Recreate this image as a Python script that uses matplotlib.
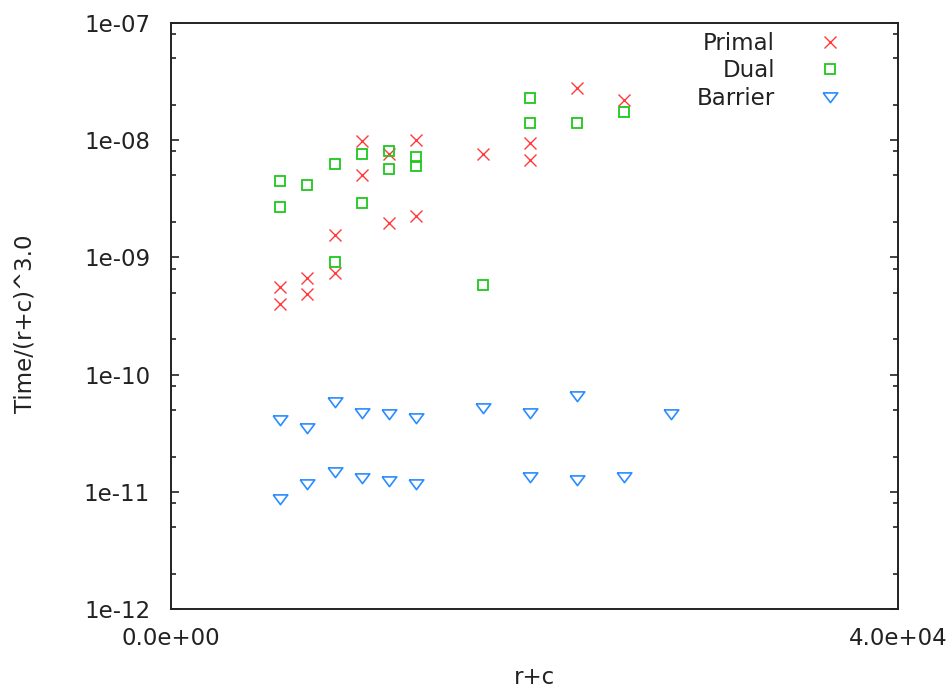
import matplotlib
matplotlib.use("Agg")
import matplotlib.pyplot as plt
from matplotlib.ticker import FixedLocator, NullFormatter
import numpy as np

# problem sizes (r+c) and timings normalised by (r+c)^3
primal_x = [6000, 6000, 7500, 7500, 9000, 9000, 10500, 10500, 12000, 12000,
            13500, 13500, 17150, 19750, 19750, 22350, 24900]
primal_y = [5.6e-10, 4.0e-10, 6.7e-10, 4.9e-10, 1.55e-9, 7.3e-10, 9.9e-9, 5.0e-9,
            7.6e-9, 1.95e-9, 1.01e-8, 2.26e-9, 7.6e-9, 9.4e-9, 6.75e-9, 2.8e-8, 2.18e-8]

dual_x = [6000, 6000, 7500, 9000, 9000, 10500, 10500, 12000, 12000, 13500, 13500,
          17150, 19750, 19750, 22350, 24900]
dual_y = [4.5e-9, 2.7e-9, 4.15e-9, 6.2e-9, 9.2e-10, 7.6e-9, 2.9e-9, 8.1e-9, 5.7e-9,
          7.1e-9, 6.0e-9, 5.8e-10, 2.3e-8, 1.4e-8, 1.4e-8, 1.72e-8]

barrier_x = [6000, 6000, 7500, 7500, 9000, 9000, 10500, 10500, 12000, 12000,
             13500, 13500, 17150, 19750, 19750, 22350, 22350, 24900, 27500]
barrier_y = [4.1e-11, 8.7e-12, 3.5e-11, 1.18e-11, 5.8e-11, 1.49e-11, 4.7e-11, 1.32e-11,
             4.6e-11, 1.25e-11, 4.3e-11, 1.18e-11, 5.15e-11, 4.7e-11, 1.33e-11,
             6.55e-11, 1.26e-11, 1.33e-11, 4.6e-11]

series_labels = ["Primal", "Dual", "Barrier"]
x_ticks = [0, 40000]
x_tick_labels = ["0.0e+00", "4.0e+04"]
y_ticks = [1e-12, 1e-11, 1e-10, 1e-9, 1e-8, 1e-7]
y_tick_labels = ["1e-12", "1e-11", "1e-10", "1e-09", "1e-08", "1e-07"]

plt.rcParams["font.family"] = ["DejaVu Sans"]
FS = 16.5
TXT = "#222222"

W, H = 952, 690
fig = plt.figure(figsize=(W / 100, H / 100), dpi=100)
ax = fig.add_axes([171 / W, 1 - 609.3 / H, (898 - 171) / W, (609.3 - 22.7) / H])

red = "#ff3a3a"
green = "#1ec81e"
blue = "#2a8cff"

# wide downward triangle with a flat top
tri = [(-1.35, 0.85), (1.35, 0.85), (0.0, -0.95), (-1.35, 0.85)]

ax.plot(primal_x, primal_y, linestyle="none", marker="x", ms=8.5, mew=1.0,
        color=red, label=series_labels[0])
ax.plot(dual_x, dual_y, linestyle="none", marker="s", ms=7.2, mew=1.3,
        mfc="none", mec=green, label=series_labels[1])
ax.plot(barrier_x, barrier_y, linestyle="none", marker=tri, ms=10.5, mew=1.2,
        mfc="none", mec=blue, label=series_labels[2])

ax.set_yscale("log")
ax.set_xlim(0, 40000)
ax.set_ylim(1e-12, 1e-7)

ax.set_xticks(x_ticks)
ax.set_xticklabels(x_tick_labels)
ax.yaxis.set_major_locator(FixedLocator(y_ticks))
ax.set_yticklabels(y_tick_labels)
minor = [m * d for d in [1e-12, 1e-11, 1e-10, 1e-9, 1e-8] for m in (2, 5, 8)]
ax.yaxis.set_minor_locator(FixedLocator(minor))
ax.yaxis.set_minor_formatter(NullFormatter())

for s in ax.spines.values():
    s.set_linewidth(1.4)
    s.set_color(TXT)

ax.tick_params(axis="y", which="major", direction="in", length=6, width=1.2,
               left=True, right=True, labelsize=FS, pad=15, colors=TXT,
               labelcolor=TXT)
ax.tick_params(axis="y", which="minor", direction="in", length=3.5, width=1.2,
               left=True, right=True, colors=TXT)
ax.tick_params(axis="x", which="both", direction="in", length=0, labelsize=FS,
               pad=13, labelcolor=TXT)

# axis titles placed in figure pixels
fig.text(534 / W, 1 - 678 / H, "r+c", fontsize=FS, color=TXT,
         ha="center", va="center")
fig.text(25 / W, 1 - 324 / H, "Time/(r+c)^3.0", fontsize=FS, color=TXT,
         ha="center", va="center", rotation=90)

leg = ax.legend(loc="upper right", frameon=False, fontsize=FS, markerfirst=False,
                handlelength=1.0, handletextpad=1.9, labelspacing=0.2,
                borderaxespad=0.0, bbox_to_anchor=(0.935, 1.0))
for t in leg.get_texts():
    t.set_ha("right")
    t.set_color(TXT)
leg._legend_box.align = "right"

fig.savefig("out.png", dpi=100)
